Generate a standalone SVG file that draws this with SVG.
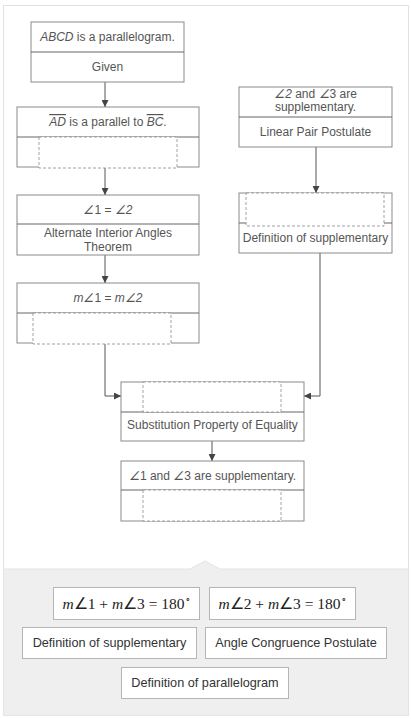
<svg xmlns="http://www.w3.org/2000/svg" width="411" height="719" viewBox="0 0 411 719">
<defs>
<marker id="arr" viewBox="0 0 10 10" refX="10" refY="5" markerWidth="7" markerHeight="7" orient="auto" markerUnits="userSpaceOnUse">
<path d="M0,0 L10,5 L0,10 z" fill="#444"/>
</marker>
<style>
.box{fill:#fff;stroke:#8a8a8a;stroke-width:1}
.div{stroke:#666;stroke-width:1}
.dash{fill:#fff;stroke:#8a8a8a;stroke-width:0.8;stroke-dasharray:3,2}
.t{font-family:"Liberation Sans",Arial,sans-serif;font-size:12px;fill:#555;text-anchor:middle}
.i{font-style:italic}
.con{fill:none;stroke:#555;stroke-width:1}
.chip{fill:#fff;stroke:#b5b5b5;stroke-width:1}
.ct{font-family:"Liberation Sans",Arial,sans-serif;font-size:12.7px;fill:#333;text-anchor:middle}
.m{font-family:"Liberation Serif","Times New Roman",serif;font-size:15.5px;fill:#222;text-anchor:middle}
</style>
</defs>
<rect x="3.5" y="5.5" width="405" height="710" fill="#fff" stroke="#e2e2e2"/>
<path d="M3.5,569 H190 L205,561 L220,569 H408.5 V715.5 H3.5 Z" fill="#efefef" stroke="#e4e4e4"/>

<g id="connectors">
<line class="con" x1="105" y1="82" x2="105" y2="107" marker-end="url(#arr)"/>
<line class="con" x1="105" y1="168" x2="105" y2="195" marker-end="url(#arr)"/>
<line class="con" x1="105" y1="255" x2="105" y2="283" marker-end="url(#arr)"/>
<line class="con" x1="316" y1="147" x2="316" y2="193" marker-end="url(#arr)"/>
<polyline class="con" points="105,344 105,396 121,396" marker-end="url(#arr)"/>
<polyline class="con" points="320,253 320,396 304,396" marker-end="url(#arr)"/>
<line class="con" x1="212" y1="441" x2="212" y2="461" marker-end="url(#arr)"/>
</g>

<g id="n1">
<rect class="box" x="31" y="22" width="153" height="60"/>
<line class="div" x1="31" y1="52" x2="184" y2="52"/>
<text class="t" x="107.5" y="41"><tspan class="i">ABCD</tspan> is a parallelogram.</text>
<text class="t" x="107.5" y="71">Given</text>
</g>

<g id="n2">
<rect class="box" x="17" y="107" width="182" height="60"/>
<line class="div" x1="17" y1="137" x2="199" y2="137"/>
<rect class="dash" x="39" y="137" width="138" height="31"/>
<text class="t" x="108" y="126"><tspan class="i" text-decoration="overline">AD</tspan> is a parallel to <tspan class="i" text-decoration="overline">BC</tspan>.</text>
</g>

<g id="n3">
<rect class="box" x="17" y="195" width="182" height="60"/>
<line class="div" x1="17" y1="224" x2="199" y2="224"/>
<text class="t" x="108" y="214"><tspan class="i">∠</tspan>1 = <tspan class="i">∠2</tspan></text>
<text class="t" x="108" y="237">Alternate Interior Angles</text>
<text class="t" x="108" y="251">Theorem</text>
</g>

<g id="n4">
<rect class="box" x="17" y="283" width="182" height="60"/>
<line class="div" x1="17" y1="313" x2="199" y2="313"/>
<rect class="dash" x="33" y="313" width="138" height="31"/>
<text class="t" x="108" y="302"><tspan class="i">m∠</tspan>1 = <tspan class="i">m∠2</tspan></text>
</g>

<g id="nA">
<rect class="box" x="239" y="87" width="153" height="60"/>
<line class="div" x1="239" y1="117" x2="392" y2="117"/>
<text class="t" x="315.5" y="98"><tspan class="i">∠2</tspan> and <tspan class="i">∠</tspan>3  are</text>
<text class="t" x="315.5" y="111">supplementary.</text>
<text class="t" x="315.5" y="136">Linear Pair Postulate</text>
</g>

<g id="nB">
<rect class="box" x="239" y="193" width="153" height="60"/>
<line class="div" x1="239" y1="223" x2="392" y2="223"/>
<rect class="dash" x="246" y="193" width="138" height="33"/>
<text class="t" x="315.5" y="242">Definition of supplementary</text>
</g>

<g id="nC">
<rect class="box" x="121" y="382" width="183" height="59"/>
<line class="div" x1="121" y1="412" x2="304" y2="412"/>
<rect class="dash" x="143" y="382" width="138" height="30"/>
<text class="t" x="212.5" y="429">Substitution Property of Equality</text>
</g>

<g id="nD">
<rect class="box" x="121" y="461" width="183" height="60"/>
<line class="div" x1="121" y1="490" x2="304" y2="490"/>
<rect class="dash" x="143" y="490" width="138" height="31"/>
<text class="t" x="212.5" y="480"><tspan class="i">∠</tspan>1 and <tspan class="i">∠</tspan>3 are supplementary.</text>
</g>

<g id="chip1">
<rect class="chip" x="53.5" y="587.5" width="146" height="32"/>
<text class="m" x="126.5" y="609"><tspan font-style="italic">m</tspan>∠1 + <tspan font-style="italic">m</tspan>∠3 = 180<tspan font-size="9" dy="-6">∘</tspan></text>
</g>
<g id="chip2">
<rect class="chip" x="209.5" y="587.5" width="146" height="32"/>
<text class="m" x="282.5" y="609"><tspan font-style="italic">m</tspan>∠2 + <tspan font-style="italic">m</tspan>∠3 = 180<tspan font-size="9" dy="-6">∘</tspan></text>
</g>
<g id="chip3">
<rect class="chip" x="22.5" y="627.5" width="174" height="31"/>
<text class="ct" x="109.5" y="647">Definition of supplementary</text>
</g>
<g id="chip4">
<rect class="chip" x="205.5" y="627.5" width="181" height="31"/>
<text class="ct" x="296" y="647">Angle Congruence Postulate</text>
</g>
<g id="chip5">
<rect class="chip" x="121.5" y="667.5" width="167" height="31"/>
<text class="ct" x="205" y="687">Definition of parallelogram</text>
</g>
</svg>
